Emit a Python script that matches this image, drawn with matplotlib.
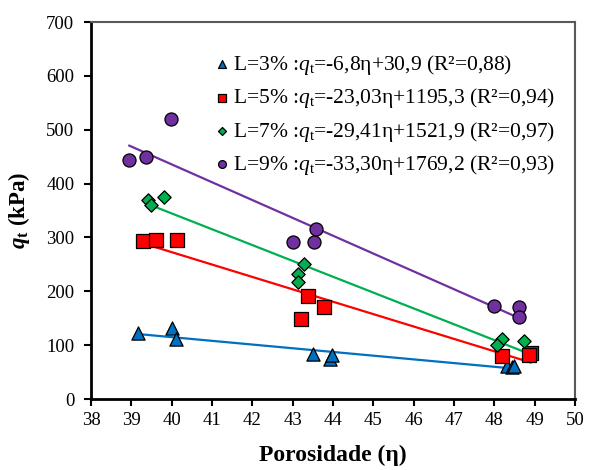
import numpy as np
import matplotlib
matplotlib.use("Agg")
import matplotlib.pyplot as plt

plt.rcParams['font.family'] = ['Liberation Serif', 'DejaVu Serif']
plt.rcParams['mathtext.fontset'] = 'custom'
plt.rcParams['mathtext.rm'] = 'Liberation Serif'
plt.rcParams['mathtext.it'] = 'Liberation Serif:italic'
plt.rcParams['mathtext.bf'] = 'Liberation Serif:bold'
plt.rcParams['mathtext.bfit'] = 'Liberation Serif:bold:italic'

# Data
x_l3 = [39.16, 40.00, 40.11, 43.51, 43.93, 43.98, 48.31, 48.45, 48.50]
y_l3 = [122, 131, 111, 84, 75, 81, 61, 60, 62]

x_l5 = [39.28, 39.61, 40.14, 43.37, 43.78, 43.21, 48.18, 48.90, 48.85]
y_l5 = [293, 296, 295, 191, 170, 149, 80, 86, 82]

x_l7 = [39.42, 39.49, 39.82, 43.28, 43.12, 43.14, 48.20, 48.06, 48.74]
y_l7 = [369, 360, 376, 250, 233, 217, 111, 100, 108]

x_l9 = [38.95, 39.36, 39.98, 43.02, 43.52, 43.57, 47.99, 48.62, 48.62]
y_l9 = [444, 450, 520, 291, 291, 316, 173, 170, 153]

labels = [
    "L=3% :$\\mathit{q}_\\mathrm{t}$=-6,8η+30,9 (R²=0,88)",
    "L=5% :$\\mathit{q}_\\mathrm{t}$=-23,03η+1195,3 (R²=0,94)",
    "L=7% :$\\mathit{q}_\\mathrm{t}$=-29,41η+1521,9 (R²=0,97)",
    "L=9% :$\\mathit{q}_\\mathrm{t}$=-33,30η+1769,2 (R²=0,93)",
]
colors = ['#0070C0', '#FF0000', '#00B050', '#7030A0']
markers = ['^', 's', 'D', 'o']
msizes = [9.5, 9.8, 6.8, 9.4]

xticks = list(range(38, 51))
yticks = list(range(0, 701, 100))

fig = plt.figure(figsize=(5.94, 4.70), dpi=100)
ax = fig.add_axes([0.1532, 0.151, 0.8148, 0.802])

series = [(x_l3, y_l3), (x_l5, y_l5), (x_l7, y_l7), (x_l9, y_l9)]
handles = []
for (xs, ys), c, m, ms, lab in zip(series, colors, markers, msizes, labels):
    xs = np.array(xs); ys = np.array(ys)
    k, b = np.polyfit(xs, ys, 1)
    xl = np.array([xs.min(), xs.max()])
    ax.plot(xl, k * xl + b, color=c, lw=1.6, zorder=2)
    h = ax.scatter(xs, ys, marker=m, s=ms ** 2, color=c, edgecolors='black',
                   linewidths=0.9, zorder=3, label=lab)
    handles.append(h)

ax.set_xlim(38, 50)
ax.set_ylim(0, 700)
ax.set_xticks(xticks)
ax.set_yticks(yticks)
ax.tick_params(axis='both', direction='out', length=5, width=1.5, labelsize=13.5,
               colors='black')
ax.tick_params(axis='y', pad=7)
ax.tick_params(axis='x', pad=4)

for s in ['left', 'bottom']:
    ax.spines[s].set_linewidth(2.0)
    ax.spines[s].set_color('black')
for s in ['top', 'right']:
    ax.spines[s].set_linewidth(1.5)
    ax.spines[s].set_color('#595959')

ax.set_xlabel("Porosidade (η)", fontsize=17, fontweight='bold', labelpad=12)
ax.set_ylabel("$\\mathbfit{q}_\\mathbf{t}$ (kPa)", fontsize=16.5, fontweight='bold', labelpad=10)

leg = ax.legend(handles=handles, loc='upper left', bbox_to_anchor=(0.255, 0.918),
                frameon=False, fontsize=15.5, handletextpad=0.15, handlelength=0.7,
                labelspacing=0.43, borderaxespad=0.0, borderpad=0.0, markerscale=0.6)

fig.savefig("out.png", dpi=100)
